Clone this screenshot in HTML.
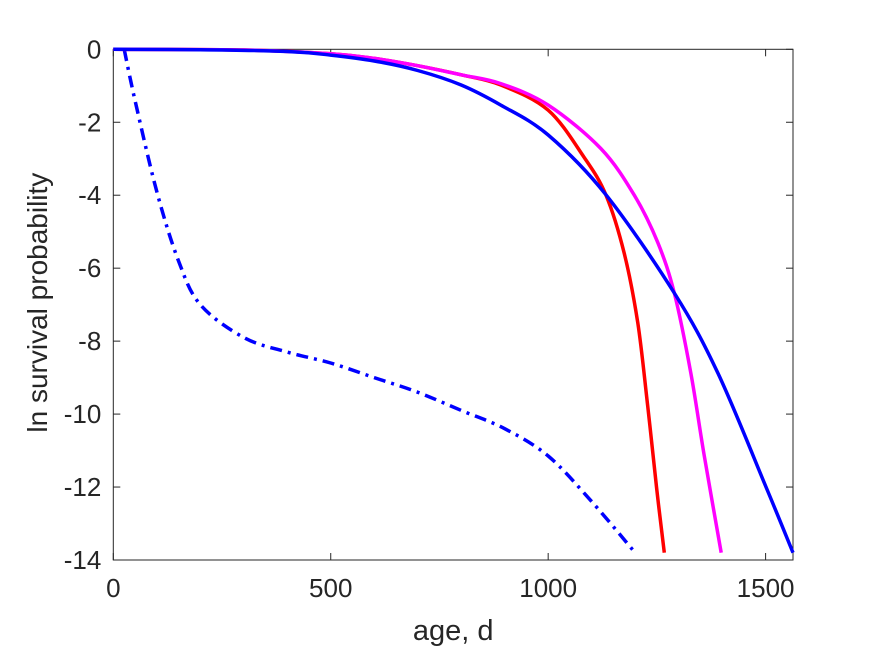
<!DOCTYPE html>
<html><head><meta charset="utf-8"><style>
body{margin:0;background:#fff}
svg{display:block;font-family:"Liberation Sans",sans-serif}
</style></head><body>
<svg id="chart" width="875" height="656">
<rect x="0" y="0" width="875" height="656" fill="#fff"/>
<g id="plot"></g>
</svg>
<script>
const xTicks=[0,500,1000,1500];
const yTicks=[0,-2,-4,-6,-8,-10,-12,-14];
const blueX=[0,200,400,500,600,700,800,891,1000,1133,1290,1390,1501,1563];
const blueY=[0,-0.01,-0.06,-0.16,-0.32,-0.58,-0.98,-1.53,-2.35,-3.99,-6.68,-8.87,-12,-13.8];
const redX=[0,300,500,600,700,800,891,1000,1083,1133,1175,1206,1229,1249,1267];
const redY=[0,-0.02,-0.12,-0.25,-0.45,-0.7,-0.98,-1.67,-2.97,-4,-5.6,-7.5,-9.8,-12,-13.8];
const magX=[0,300,500,600,700,800,891,1000,1121,1198,1252,1290,1328,1359,1398];
const magY=[0,-0.02,-0.12,-0.25,-0.45,-0.7,-0.94,-1.53,-2.72,-4,-5.3,-6.68,-8.87,-11.15,-13.8];
const dashX=[25,50,100,150,200,300,400,500,600,700,800,900,1000,1100,1200];
const dashY=[0,-1.4,-3.9,-5.8,-7.0,-7.9,-8.3,-8.6,-9.0,-9.4,-9.9,-10.4,-11.15,-12.4,-13.8];

const L=113.3,R=793,T=49.3,B=560,XMAX=1563,YMIN=-14;
const sx=v=>L+v/XMAX*(R-L);
const sy=v=>T+(0-v)/(0-YMIN)*(B-T);
const NS='http://www.w3.org/2000/svg';
const g=document.getElementById('plot');
function mk(t,a){const e=document.createElementNS(NS,t);for(const k in a)e.setAttribute(k,a[k]);g.appendChild(e);return e;}

const box=mk('rect',{x:L,y:T,width:R-L,height:B-T,fill:'none',stroke:'#262626','stroke-width':1});



xTicks.forEach(v=>{
  const x=sx(v);
  const t1=mk('line',{x1:x,x2:x,y1:B,y2:B-7,stroke:'#262626'});
  
  
  const t2=mk('line',{x1:x,x2:x,y1:T,y2:T+7,stroke:'#262626'});
  
  
  const tx=mk('text',{x:x,y:B+37,'text-anchor':'middle','font-size':26,fill:'#262626'});
  tx.textContent=v;
  
  
});
yTicks.forEach(v=>{
  const y=sy(v);
  const t1=mk('line',{x1:L,x2:L+7,y1:y,y2:y,stroke:'#262626'});
  
  
  const t2=mk('line',{x1:R,x2:R-7,y1:y,y2:y,stroke:'#262626'});
  
  
  const tx=mk('text',{x:L-12,y:y+9,'text-anchor':'end','font-size':26,fill:'#262626'});
  tx.textContent=v;
  
  
});

function line(xs,ys,color,name,dash){
  const P=xs.map((x,i)=>[sx(x),sy(ys[i])]);
  let d='M'+P[0][0].toFixed(1)+','+P[0][1].toFixed(1);
  for(let i=0;i<P.length-1;i++){
    const p0=P[Math.max(0,i-1)],p1=P[i],p2=P[i+1],p3=P[Math.min(P.length-1,i+2)];
    const c1=[p1[0]+(p2[0]-p0[0])/6,p1[1]+(p2[1]-p0[1])/6];
    const c2=[p2[0]-(p3[0]-p1[0])/6,p2[1]-(p3[1]-p1[1])/6];
    d+='C'+c1[0].toFixed(1)+','+c1[1].toFixed(1)+' '+c2[0].toFixed(1)+','+c2[1].toFixed(1)+' '+p2[0].toFixed(1)+','+p2[1].toFixed(1);
  }
  const a={d:d,fill:'none',stroke:color,'stroke-width':3.5,'stroke-linejoin':'round'};
  if(dash)a['stroke-dasharray']=dash;
  const p=mk('path',a);
  
  
}
line(dashX,dashY,'#0000ff','dash-dot-series','12,6,3,6');
line(redX,redY,'#ff0000','red-series');
line(magX,magY,'#ff00ff','magenta-series');
line(blueX,blueY,'#0000ff','blue-series');

const xl=mk('text',{x:(L+R)/2,y:640,'text-anchor':'middle','font-size':29,fill:'#262626'});
xl.textContent='age, d';


const yl=mk('text',{x:0,y:0,'text-anchor':'middle','font-size':28,fill:'#262626',transform:'translate(47,'+((T+B)/2-2)+') rotate(-90)'});
yl.textContent='ln survival probability';


</script>
</body></html>
